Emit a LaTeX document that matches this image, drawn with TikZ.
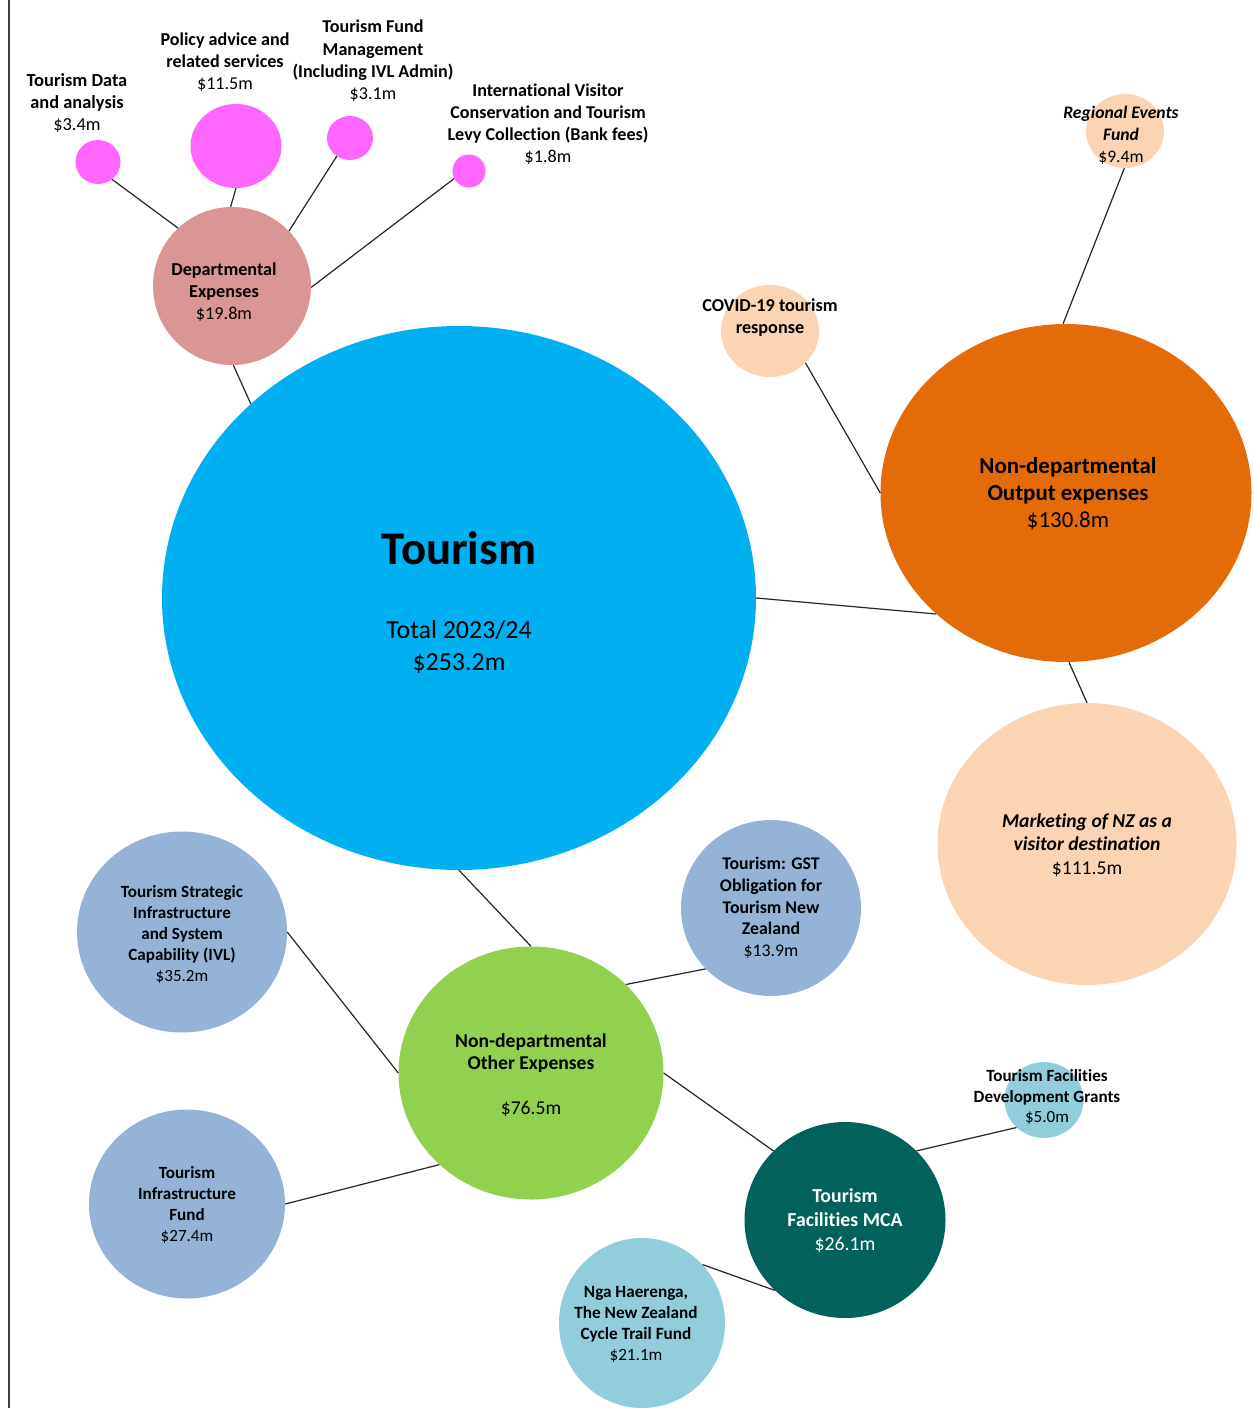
\documentclass[tikz,border=0pt]{standalone}
\usepackage{fontspec}
\setmainfont{Carlito}[Ligatures={NoCommon}]
\usetikzlibrary{shapes.geometric}
\definecolor{cTour}{HTML}{00B0F0}
\definecolor{cDept}{HTML}{D99694}
\definecolor{cPink}{HTML}{FF66FF}
\definecolor{cOrange}{HTML}{E36C09}
\definecolor{cPeach}{HTML}{FBD4B4}
\definecolor{cGreen}{HTML}{92D050}
\definecolor{cBlue}{HTML}{95B3D7}
\definecolor{cTeal}{HTML}{00625A}
\definecolor{cLight}{HTML}{92CDDC}
\tikzset{
  bub/.style={ellipse, inner sep=0pt, draw=none},
  conn/.style={line width=1.2pt, black!85},
  lbl/.style={align=center, inner sep=0pt},
}
\newcommand{\fs}[2]{\fontsize{#1}{#2}\selectfont}
\begin{document}
\begin{tikzpicture}[x=1pt,y=-1pt]
\useasboundingbox (0,0) rectangle (1253,1408);
\fill[white] (0,0) rectangle (1253,1408);
\draw[line width=2pt, black!75] (9,0) -- (9,1408);
% bubbles
\node[bub, fill=cTour, minimum width=594pt, minimum height=544pt] (tour) at (459,598) {};
\node[bub, fill=cDept, minimum width=158pt, minimum height=158pt] (dept) at (232,286) {};
\node[bub, fill=cPink, minimum width=45pt, minimum height=44pt] (data) at (98,162) {};
\node[bub, fill=cPink, minimum width=91pt, minimum height=84pt] (policy) at (236,146) {};
\node[bub, fill=cPink, minimum width=46pt, minimum height=44pt] (fund) at (350,138) {};
\node[bub, fill=cPink, minimum width=33pt, minimum height=33pt] (ivl) at (469,171) {};
\node[bub, fill=cOrange, minimum width=371pt, minimum height=338pt] (output) at (1066,493) {};
\node[bub, fill=cPeach, minimum width=98pt, minimum height=92pt] (covid) at (770,331) {};
\node[bub, fill=cPeach, minimum width=78pt, minimum height=74pt] (regional) at (1125,131) {};
\node[bub, fill=cPeach, minimum width=299pt, minimum height=282pt] (mkt) at (1087,844) {};
\node[bub, fill=cGreen, minimum width=265pt, minimum height=253pt] (other) at (531,1073) {};
\node[bub, fill=cBlue, minimum width=210pt, minimum height=201pt] (strat) at (182,932) {};
\node[bub, fill=cBlue, minimum width=196pt, minimum height=189pt] (infra) at (187,1204) {};
\node[bub, fill=cBlue, minimum width=180pt, minimum height=176pt] (gst) at (771,908) {};
\node[bub, fill=cTeal, minimum width=201pt, minimum height=196pt] (mca) at (845,1220) {};
\node[bub, fill=cLight, minimum width=79pt, minimum height=76pt] (dev) at (1044,1100) {};
\node[bub, fill=cLight, minimum width=166pt, minimum height=170pt] (nga) at (642,1323) {};
% connectors
\draw[conn] (data.-51) -- (dept.133);
\draw[conn] (policy.-90) -- (dept.91);
\draw[conn] (fund.-126) -- (dept.44);
\draw[conn] (ivl.-153) -- (dept.-1);
\draw[conn] (dept.-89) -- (tour.137);
\draw[conn] (tour.0) -- (output.-137);
\draw[conn] (covid.-42) -- (output.180);
\draw[conn] (regional.-91) -- (output.91);
\draw[conn] (output.-89) -- (mkt.90);
\draw[conn] (tour.-90) -- (other.90);
\draw[conn] (other.43) -- (gst.-137);
\draw[conn] (strat.0) -- (other.180);
\draw[conn] (infra.0) -- (other.-135);
\draw[conn] (other.0) -- (mca.136);
\draw[conn] (mca.44) -- (dev.-135);
\draw[conn] (nga.44) -- (mca.-135);
% labels
\node[lbl, font=\fs{18.4}{22}] (tdata) at (77,103) {\textbf{Tourism Data}\\\textbf{and analysis}\\\$3.4m};
\node[lbl, font=\fs{18.1}{22}] (tpolicy) at (225,62) {\textbf{Policy advice and}\\\textbf{related services}\\\$11.5m};
\node[lbl, font=\fs{18.1}{22.3}] (tfund) at (373,61) {\textbf{Tourism Fund}\\\textbf{Management}\\\textbf{(Including IVL Admin)}\\\$3.1m};
\node[lbl, font=\fs{18.1}{22}] (tivl) at (548,124) {\textbf{International Visitor}\\\textbf{Conservation and Tourism}\\\textbf{Levy Collection (Bank fees)}\\\$1.8m};
\node[lbl, font=\fs{18.2}{22}] (tdept) at (224,292) {\textbf{Departmental}\\\textbf{Expenses}\\\$19.8m};
\node[lbl, font=\bfseries\fs{46.8}{50}] (ttour) at (459,548) {Tourism};
\node[lbl, font=\fs{25.9}{32}] (ttotal) at (459,647) {Total 2023/24\\\$253.2m};
\node[lbl, font=\bfseries\fs{18.2}{22}] (tcovid) at (770,318) {COVID-19 tourism\\response};
\node[lbl, font=\fs{17.6}{22}] (treg) at (1121,135) {\textbf{\itshape Regional Events}\\\textbf{\itshape Fund}\\\$9.4m};
\node[lbl, font=\fs{22.9}{27}] (tout) at (1068,494) {\textbf{Non-departmental}\\\textbf{Output expenses}\\\$130.8m};
\node[lbl, font=\fs{19.6}{23.5}] (tmkt) at (1087,845) {\textbf{\itshape Marketing of NZ as a}\\\textbf{\itshape visitor destination}\\\$111.5m};
\node[lbl, font=\fs{17.8}{21.7}] (tgst) at (771,908) {\textbf{Tourism: GST}\\\textbf{Obligation for}\\\textbf{Tourism New}\\\textbf{Zealand}\\\$13.9m};
\node[lbl, font=\fs{17.1}{21}] (tstrat) at (182,934) {\textbf{Tourism Strategic}\\\textbf{Infrastructure}\\\textbf{and System}\\\textbf{Capability (IVL)}\\\$35.2m};
\node[lbl, font=\fs{19.6}{22.5}] (tother) at (531,1075) {\textbf{Non-departmental}\\\textbf{Other Expenses}\\[22.5pt]\$76.5m};
\node[lbl, font=\fs{17.1}{21}] (tinfra) at (187,1205) {\textbf{Tourism}\\\textbf{Infrastructure}\\\textbf{Fund}\\\$27.4m};
\node[lbl, font=\fs{19.8}{24}, text=white] (tmca) at (845,1221) {\textbf{Tourism}\\\textbf{Facilities MCA}\\\$26.1m};
\node[lbl, font=\fs{17.1}{20.5}] (tdev) at (1047,1097) {\textbf{Tourism Facilities}\\\textbf{Development Grants}\\\$5.0m};
\node[lbl, font=\fs{17.2}{21}] (tnga) at (636,1324) {\textbf{Nga Haerenga,}\\\textbf{The New Zealand}\\\textbf{Cycle Trail Fund}\\\$21.1m};
\end{tikzpicture}
\end{document}
